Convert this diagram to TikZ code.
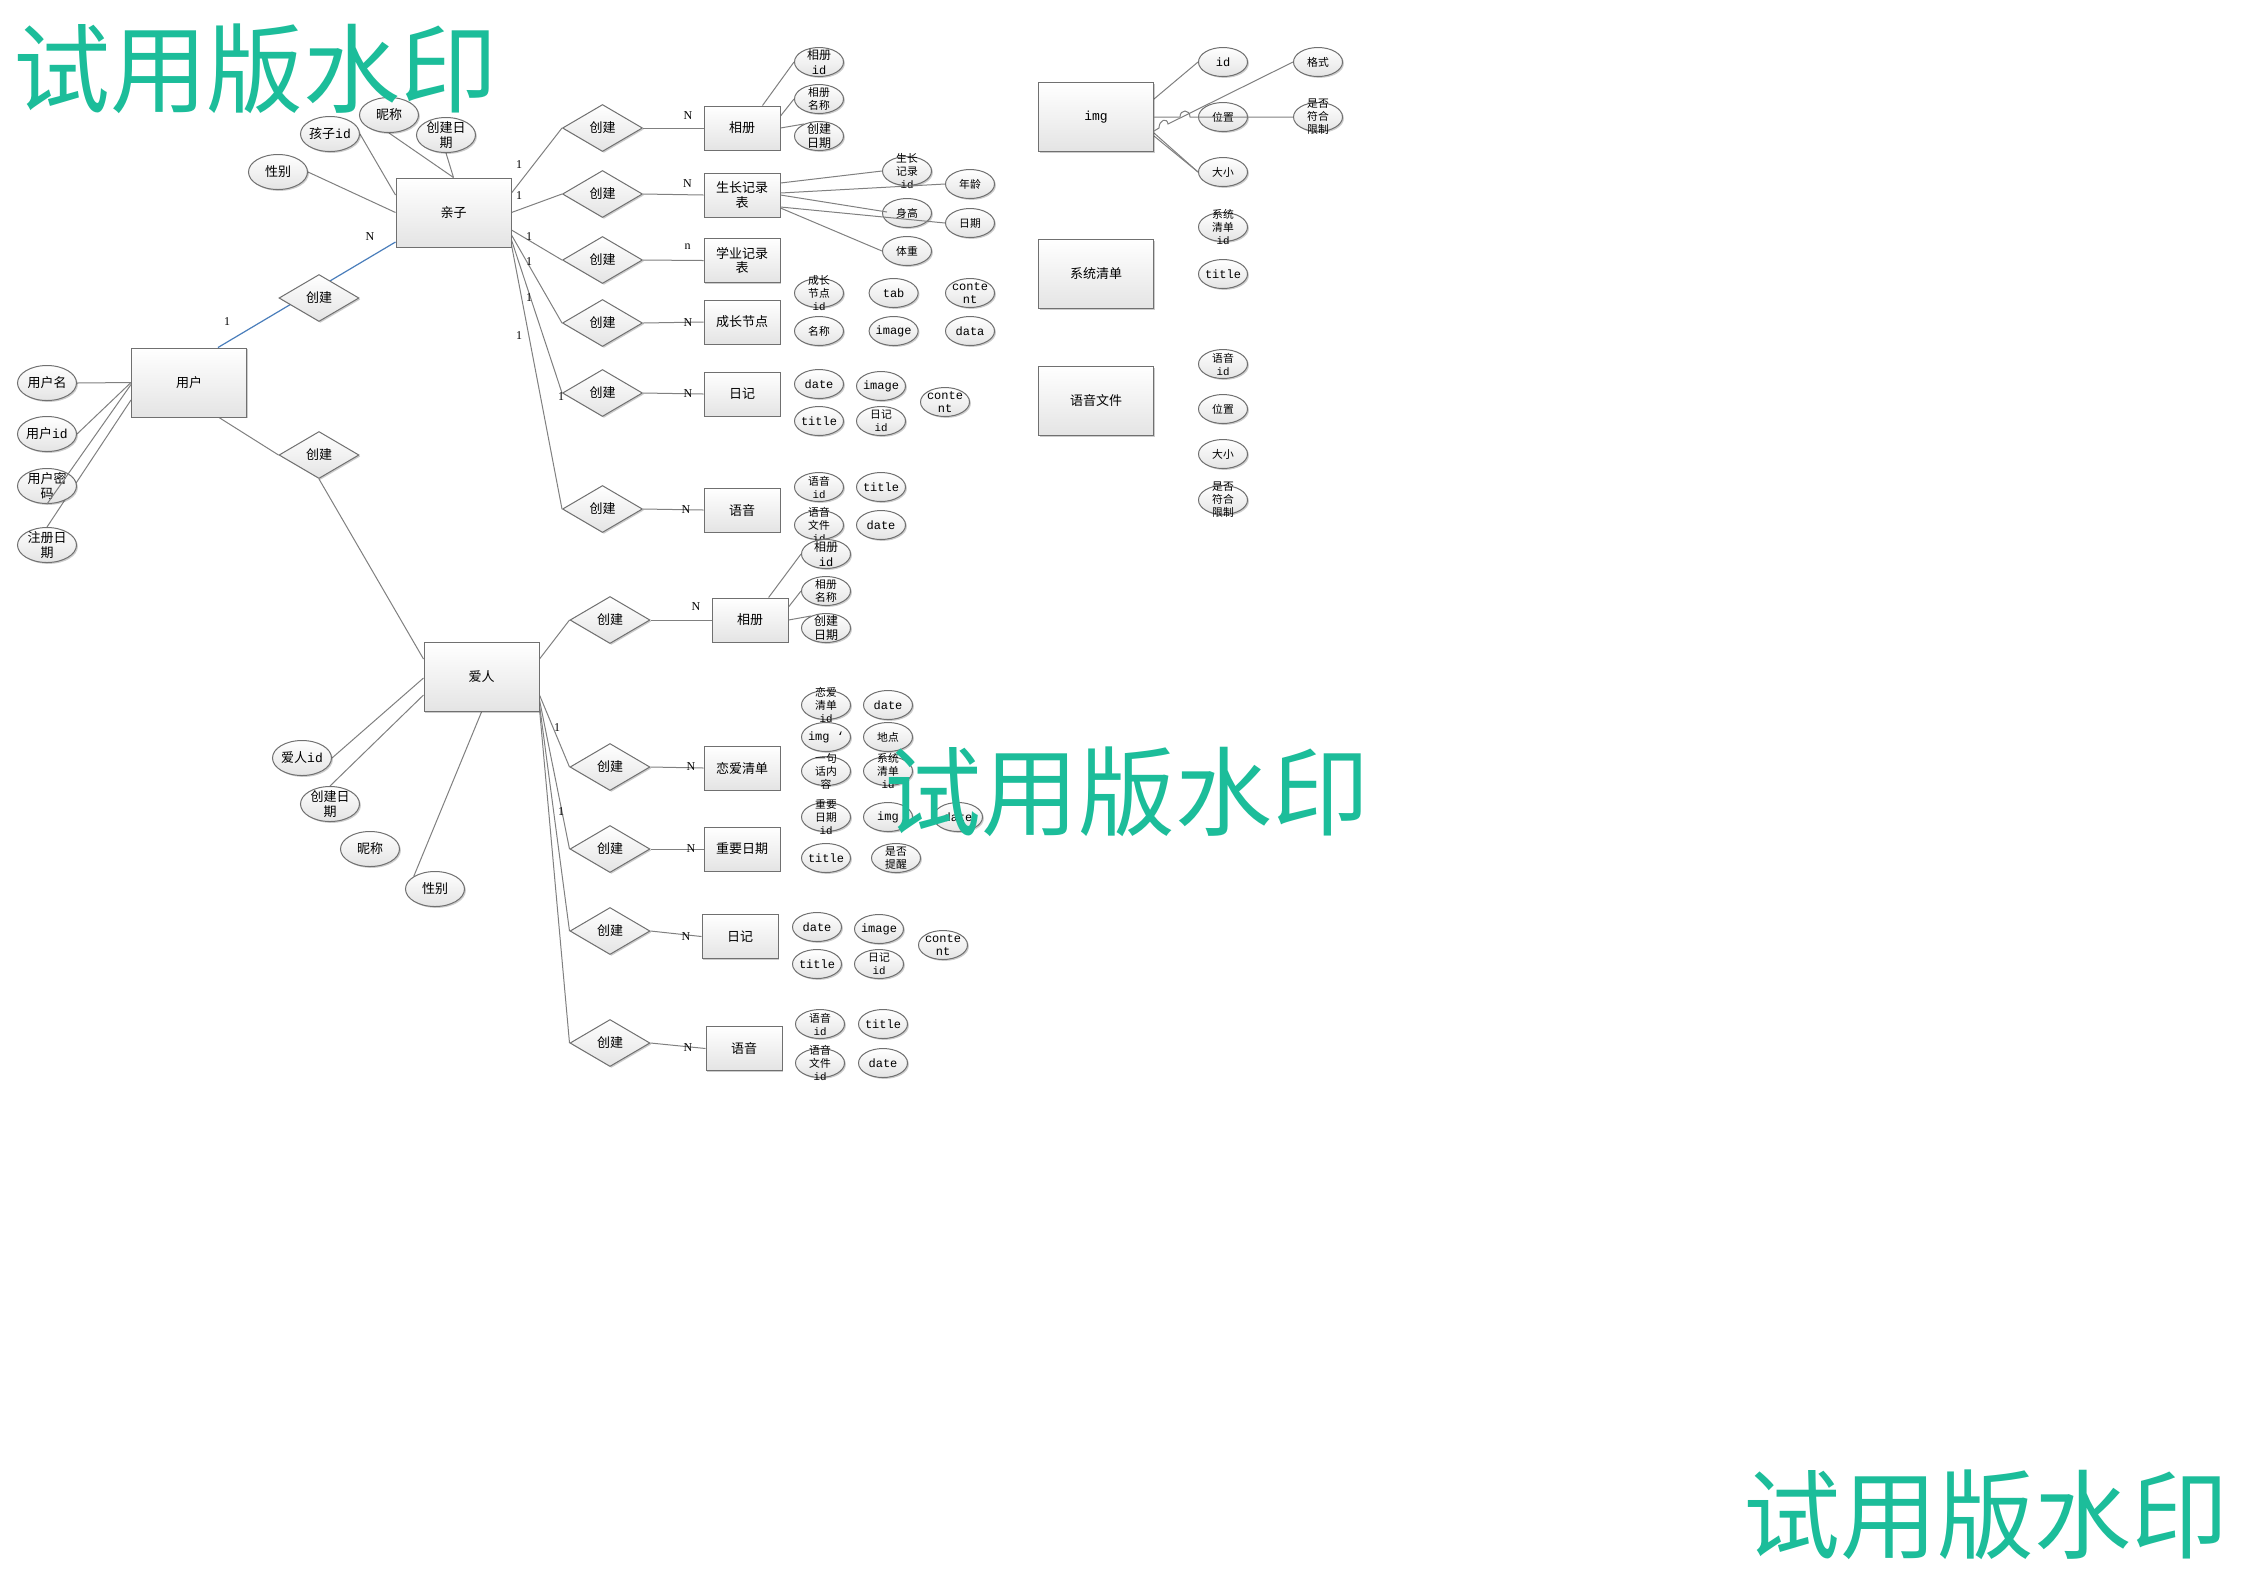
\documentclass[tikz,border=0pt]{standalone}
\usepackage{fontspec}
\newfontfamily\cjk{Noto Sans CJK SC}
\newfontfamily\mono{Liberation Mono}
\newfontfamily\ser{Liberation Serif}
\usetikzlibrary{shapes.geometric,calc,shadows}
\pgfdeclarelayer{bg}
\pgfsetlayers{bg,main}
\definecolor{bd}{RGB}{112,112,112}
\definecolor{ln}{RGB}{128,128,128}
\definecolor{blu}{RGB}{74,126,187}
\definecolor{gfill}{RGB}{228,228,228}
\definecolor{wmc}{RGB}{28,189,154}
\newcommand\fE{\fontsize{6.5}{7.4}\selectfont\cjk}
\newcommand\fM{\fontsize{6}{7.4}\selectfont\cjk}
\newcommand\fS{\fontsize{5.4}{6.5}\selectfont\cjk}
\newcommand\fL{\fontsize{6}{6.8}\selectfont\mono}
\newcommand\at[5]{\node[#1,label={[lab,font=#4]center:{#5}}] (#2) at (#3) {};}
\tikzset{
  shd/.style={drop shadow={shadow xshift=0.7pt,shadow yshift=-0.7pt,fill=black,opacity=0.2}},
  ent/.style={draw=bd,line width=0.5pt,top color=white,bottom color=gfill,inner sep=0,align=center,font=\fE,shd},
  big/.style={ent,minimum width=57.5pt,minimum height=34.5pt},
  sml/.style={ent,minimum width=38pt,minimum height=22pt},
  rel/.style={diamond,draw=bd,line width=0.5pt,top color=white,bottom color=gfill,inner sep=0,minimum width=40pt,minimum height=23.5pt,font=\fE,shd},
  al/.style={ellipse,draw=bd,line width=0.5pt,top color=white,bottom color=gfill,inner sep=0,minimum width=29.5pt,minimum height=17.5pt,shd},
  as/.style={ellipse,draw=bd,line width=0.5pt,top color=white,bottom color=gfill,inner sep=0,minimum width=24.5pt,minimum height=14.5pt,shd},
  lab/.style={align=center,inner sep=0,text=black},
  conn/.style={draw=ln,line width=0.5pt},
  blueln/.style={draw=blu,line width=0.6pt},
  card/.style={font=\fontsize{6}{6}\selectfont\ser,inner sep=0},
  wm/.style={font=\fontsize{48.5}{50}\selectfont\cjk,text=wmc,inner sep=0}
}
\begin{document}
\begin{tikzpicture}[x=0.5pt,y=-0.5pt]
\useasboundingbox (0,0) rectangle (2245,1587);
\begin{pgfonlayer}{bg}
\fill[white] (0,0) rectangle (2245,1587);
\end{pgfonlayer}

% ---------- entities ----------
\node[big] (user) at (189,382.5) {用户};
\node[big] (qz) at (453.5,212.5) {亲子};
\node[big] (ar) at (481.5,677) {爱人};
\node[big] (img) at (1096,117) {\mono img};
\node[big] (xtqd) at (1096,274) {系统清单};
\node[big] (yywj) at (1096,401) {语音文件};

\node[sml] (e1) at (742,128) {相册};
\node[sml] (e2) at (742,195) {生长记录\\表};
\node[sml] (e3) at (742,260.5) {学业记录\\表};
\node[sml] (e4) at (742,322) {成长节点};
\node[sml] (e5) at (742,394) {日记};
\node[sml] (e6) at (742,510) {语音};
\node[sml] (f1) at (750,620) {相册};
\node[sml] (f2) at (742,768) {恋爱清单};
\node[sml] (f3) at (742,849) {重要日期};
\node[sml] (f4) at (740,936.5) {日记};
\node[sml] (f5) at (744,1048.5) {语音};

% ---------- relationships ----------
\node[rel] (R0) at (319,298) {创建};
\node[rel] (R1) at (319,455) {创建};
\node[rel] (A1) at (602.5,128) {创建};
\node[rel] (A2) at (602.5,194) {创建};
\node[rel] (A3) at (602.5,260) {创建};
\node[rel] (A4) at (602.5,323) {创建};
\node[rel] (A5) at (602.5,393) {创建};
\node[rel] (A6) at (602.5,509) {创建};
\node[rel] (B1) at (610,620) {创建};
\node[rel] (B2) at (610,767) {创建};
\node[rel] (B3) at (610,849) {创建};
\node[rel] (B4) at (610,931) {创建};
\node[rel] (B5) at (610,1043) {创建};

% ---------- attributes ----------
\at{al}{un}{47,383}{\fE}{用户名}
\at{al}{uid}{47,434}{\fE}{用户{\mono id}}
\at{al}{upw}{47,486}{\fE}{用户密\\码}
\at{al}{ureg}{47,545}{\fE}{注册日\\期}

\at{al}{qsex}{278,172}{\fE}{性别}
\at{al}{qid}{330,134}{\fE}{孩子{\mono id}}
\at{al}{qnick}{389,115}{\fE}{昵称}
\at{al}{qdate}{446,135}{\fE}{创建日\\期}

\at{al}{aid}{302,758}{\fE}{爱人{\mono id}}
\at{al}{adate}{330,804}{\fE}{创建日\\期}
\at{al}{anick}{370,849}{\fE}{昵称}
\at{al}{asex}{435,889}{\fE}{性别}

\at{as}{p1id}{819,62}{\fM}{相册\\{\mono id}}
\at{as}{p1name}{819,99}{\fS}{相册\\名称}
\at{as}{p1date}{819,136}{\fM}{创建\\日期}

\at{as}{g1}{907,171}{\fS}{生长\\记录\\{\mono id}}
\at{as}{g2}{970,184}{\fS}{年龄}
\at{as}{g3}{907,213}{\fS}{身高}
\at{as}{g4}{970,223}{\fS}{日期}
\at{as}{g5}{907,251}{\fS}{体重}

\at{as}{c1}{819,293}{\fS}{成长\\节点\\{\mono id}}
\at{as}{c2}{893.6,293}{\fL}{tab}
\at{as}{c3}{970,293}{\fL}{conte\\nt}
\at{as}{c4}{819,331}{\fS}{名称}
\at{as}{c5}{893.6,331}{\fL}{image}
\at{as}{c6}{970,331}{\fL}{data}

\at{as}{d1}{819,384}{\fL}{date}
\at{as}{d2}{881,386}{\fL}{image}
\at{as}{d3}{945,402}{\fL}{conte\\nt}
\at{as}{d4}{819,421}{\fL}{title}
\at{as}{d5}{881,421}{\fS}{日记\\{\mono id}}

\at{as}{v1}{819,487}{\fS}{语音\\{\mono id}}
\at{as}{v2}{881,487}{\fL}{title}
\at{as}{v3}{819,525}{\fS}{语音\\文件\\{\mono id}}
\at{as}{v4}{881,525}{\fL}{date}

\at{as}{i1}{1223,62}{\fL}{id}
\at{as}{i2}{1318,62}{\fS}{格式}
\at{as}{i3}{1223,117}{\fS}{位置}
\at{as}{i4}{1318,117}{\fS}{是否\\符合\\限制}
\at{as}{i5}{1223,172}{\fS}{大小}
\at{as}{s1}{1223,227}{\fS}{系统\\清单\\{\mono id}}
\at{as}{s2}{1223,274}{\fL}{title}
\at{as}{y1}{1223,364}{\fS}{语音\\{\mono id}}
\at{as}{y2}{1223,409}{\fS}{位置}
\at{as}{y3}{1223,454}{\fS}{大小}
\at{as}{y4}{1223,500}{\fS}{是否\\符合\\限制}

\at{as}{q1id}{826,554}{\fM}{相册\\{\mono id}}
\at{as}{q1name}{826,591}{\fS}{相册\\名称}
\at{as}{q1date}{826,628}{\fM}{创建\\日期}

\at{as}{l1}{826,705}{\fS}{恋爱\\清单\\{\mono id}}
\at{as}{l2}{888,705}{\fL}{date}
\at{as}{l3}{826,737}{\fL}{img ‘}
\at{as}{l4}{888,737}{\fS}{地点}
\at{as}{l5}{826,771}{\fS}{一句\\话内\\容}
\at{as}{l6}{888,771}{\fS}{系统\\清单\\{\mono id}}
\at{as}{l7}{826,817}{\fS}{重要\\日期\\{\mono id}}
\at{as}{l8}{888,817}{\fL}{img}
\at{as}{l9}{958,817}{\fL}{date}
\at{as}{l10}{826,858}{\fL}{title}
\at{as}{l11}{896,858}{\fS}{是否\\提醒}

\at{as}{h1}{817,927}{\fL}{date}
\at{as}{h2}{879,929}{\fL}{image}
\at{as}{h3}{943,945}{\fL}{conte\\nt}
\at{as}{h4}{817,964}{\fL}{title}
\at{as}{h5}{879,964}{\fS}{日记\\{\mono id}}

\at{as}{k1}{820,1024}{\fS}{语音\\{\mono id}}
\at{as}{k2}{883,1024}{\fL}{title}
\at{as}{k3}{820,1063}{\fS}{语音\\文件\\{\mono id}}
\at{as}{k4}{883,1063}{\fL}{date}

% ---------- connectors (behind) ----------
\begin{pgfonlayer}{bg}
\draw[blueln] ($(user.north)+(29,0)$) -- ($(qz.west)+(0,29.5)$);
\draw[conn] ($(user.south)+(30,0)$) -- (R1.west);
\draw[conn] (R1.south) -- ($(ar.north west)+(0,17)$);
\draw[conn] (un.east) -- (user.west);
\draw[conn] (uid.east) -- (user.west);
\draw[conn] (ureg.north) -- ($(user.west)+(0,17.5)$);

\draw[conn] (qsex.east) -- (qz.west);
\draw[conn] (qid.east) -- ($(qz.west)+(0,-17.5)$);
\draw[conn] (qnick.south) -- (qz.north);
\draw[conn] (qdate.south) -- (qz.north);

\draw[conn] (aid.east) -- ($(ar.west)+(0,1)$);
\draw[conn] (adate.north) -- ($(ar.west)+(0,18)$);
\draw[conn] (asex.north west) -- (ar.south);

\draw[conn] ($(qz.east)+(0,-19.5)$) -- (A1.west);
\draw[conn] (qz.east) -- (A2.west);
\draw[conn] ($(qz.east)+(0,17.5)$) -- (A3.west);
\draw[conn] ($(qz.east)+(0,22.5)$) -- (A4.west);
\draw[conn] ($(qz.east)+(0,27.5)$) -- (A5.west);
\draw[conn] ($(qz.east)+(0,32.5)$) -- (A6.west);
\foreach \i in {1,...,6} {\draw[conn] (A\i.east) -- (e\i.west);}

\draw[conn] ($(ar.east)+(0,-18)$) -- (B1.west);
\draw[conn] ($(ar.east)+(0,18)$) -- (B2.west);
\draw[conn] ($(ar.east)+(0,23)$) -- (B3.west);
\draw[conn] ($(ar.east)+(0,28)$) -- (B4.west);
\draw[conn] ($(ar.east)+(0,32)$) -- (B5.west);
\foreach \i in {1,...,5} {\draw[conn] (B\i.east) -- (f\i.west);}

\draw[conn] ($(e1.north)+(20.5,0)$) -- (p1id.west);
\draw[conn] ($(e1.east)+(0,-12)$) -- (p1name.west);
\draw[conn] (e1.east) -- (p1date.141);

\draw[conn] ($(e2.east)+(0,-12)$) -- (g1.west);
\draw[conn] ($(e2.east)+(0,13)$) -- (g5.west);

\draw[conn] ($(img.east)+(0,-18)$) -- (i1.west);
\draw[conn] ($(img.east)+(0,16)$) -- (i5.west);
\draw[conn] ($(img.east)+(0,19)$) -- (i5.west);

\draw[conn] ($(f1.north)+(18.6,0)$) -- (q1id.west);
\draw[conn] ($(f1.east)+(0,-13)$) -- (q1name.west);
\draw[conn] (f1.east) -- (q1date.141);
\end{pgfonlayer}

% ---------- connectors drawn over shapes ----------
\draw[conn] (upw.south) -- ($(user.west)+(0,2)$);
\draw[conn] ($(e2.east)+(0,-2)$) -- (g2.west);
\draw[conn] (e2.east) -- ($(g3.west)+(5,-1)$);
\draw[conn] ($(e2.east)+(0,12)$) -- (g4.west);
\draw[conn] (img.east) -- (1180,117) .. controls (1180,109) and (1190,109) .. (1190,117) -- (i4.west);
\draw[conn] (i2.west) -- (1168,124) .. controls (1167,117) and (1159,120) .. (1159,128) -- ($(img.east)+(0,14)$);

% ---------- cardinalities ----------
\node[card] (k01) at (370,237) {N};
\node[card] (k02) at (227,322) {1};
\node[card] (k03) at (519,165) {1};
\node[card] (k04) at (519,196) {1};
\node[card] (k05) at (529,237) {1};
\node[card] (k06) at (529,262) {1};
\node[card] (k07) at (529,298) {1};
\node[card] (k08) at (519,336) {1};
\node[card] (k09) at (561,397) {1};
\node[card] (k10) at (557,728) {1};
\node[card] (k11) at (561,812) {1};
\node[card] (m01) at (688,116) {N};
\node[card] (m02) at (687.5,184) {N};
\node[card] (m03) at (687.5,247) {n};
\node[card] (m04) at (688,323) {N};
\node[card] (m05) at (688,394) {N};
\node[card] (m06) at (686,510) {N};
\node[card] (m07) at (696,607) {N};
\node[card] (m08) at (691,767) {N};
\node[card] (m09) at (691,849) {N};
\node[card] (m10) at (686,937) {N};
\node[card] (m11) at (688,1048) {N};

% ---------- watermarks ----------
\node[wm] (w1) at (255.5,69) {试用版水印};
\node[wm] (w2) at (1126.5,792) {试用版水印};
\node[wm] (w3) at (1986,1515) {试用版水印};
\end{tikzpicture}
\end{document}
